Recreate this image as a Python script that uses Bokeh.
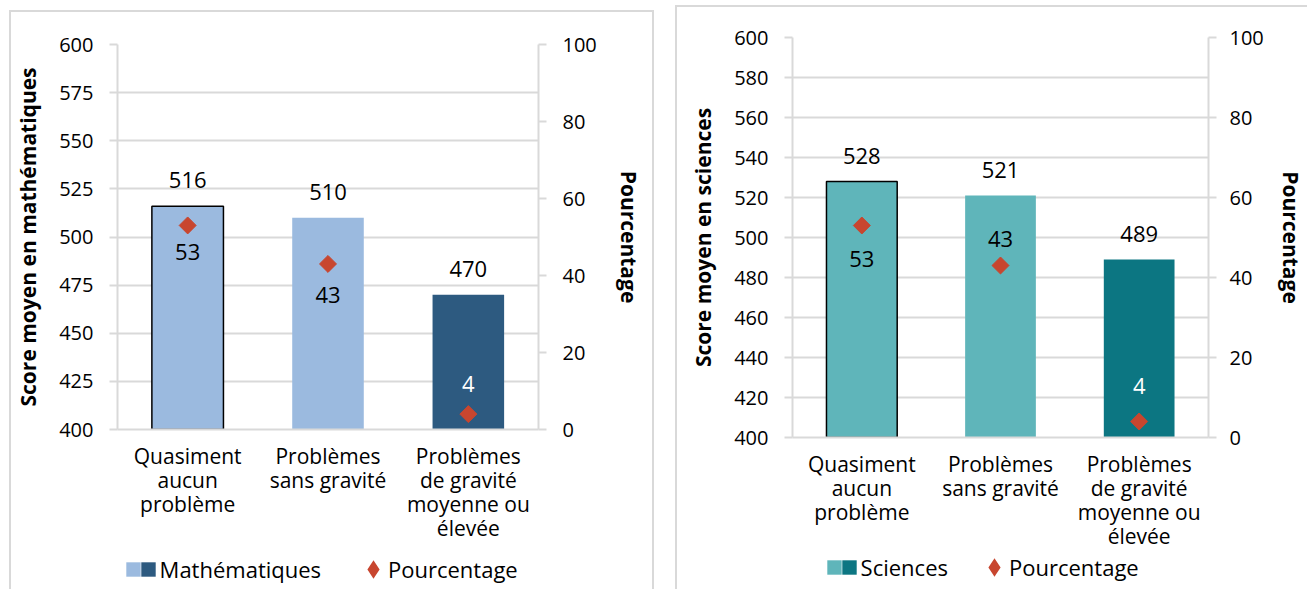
import math
from bokeh.plotting import figure
from bokeh.models import (FactorRange, Range1d, LinearAxis, FixedTicker, Legend, LegendItem,
                          ColumnDataSource, CDSView, IndexFilter)
from bokeh.layouts import row, column
from bokeh.embed import file_html
from bokeh.resources import INLINE
from bokeh.core.properties import value

# ---------------- data ----------------
categories = ["Quasiment\naucun\nproblème",
              "Problèmes\nsans gravité",
              "Problèmes\nde gravité\nmoyenne ou\nélevée"]
math_scores = [516, 510, 470]
math_pct = [53, 43, 4]
sci_scores = [528, 521, 489]
sci_pct = [53, 43, 4]
math_ticks = [400, 425, 450, 475, 500, 525, 550, 575, 600]
sci_ticks = [400, 420, 440, 460, 480, 500, 520, 540, 560, 580, 600]
pct_ticks = [0, 20, 40, 60, 80, 100]
math_title = "Score moyen en mathématiques"
sci_title = "Score moyen en sciences"
pct_title = "Pourcentage"
math_legend = "Mathématiques"
sci_legend = "Sciences"

# ---------------- style ----------------
FONT = "Open Sans"
GRID = "#D9D9D9"
RED = "#C8462F"


def make_source(scores, pct, pct_offsets, pct_colors):
    return ColumnDataSource(dict(cat=categories, score=scores, pct=pct,
                                 score_txt=[str(v) for v in scores],
                                 pct_txt=[str(v) for v in pct],
                                 pct_off=pct_offsets, pct_col=pct_colors))


def make_chart(src, ticks, ytitle, light, dark, width, height, borders,
               tick_standoff_right, label_standoff_right):
    p = figure(width=width, height=height, output_backend="svg", toolbar_location=None,
               x_range=FactorRange(factors=categories), y_range=Range1d(400, 600))
    p.min_border_left, p.min_border_top, p.min_border_right, p.min_border_bottom = borders
    p.outline_line_color = None
    p.background_fill_color = "white"
    p.border_fill_color = "white"
    p.extra_y_ranges = {"pct": Range1d(0, 100)}

    p.vbar(x="cat", top="score", bottom=400, width=0.51, source=src,
           view=CDSView(filter=IndexFilter([0, 1])), fill_color=light, line_color=None)
    p.vbar(x="cat", top="score", bottom=400, width=0.51, source=src,
           view=CDSView(filter=IndexFilter([2])), fill_color=dark, line_color=None)
    p.vbar(x="cat", top="score", bottom=400, width=0.51, source=src,
           view=CDSView(filter=IndexFilter([0])),
           fill_color=None, line_color="black", line_width=1.5)

    p.scatter(x="cat", y="pct", y_range_name="pct", source=src, marker="square",
              angle=math.pi / 4, size=12, fill_color=RED, line_color=RED)

    p.text(x="cat", y="score", text="score_txt", source=src, text_align="center",
           text_baseline="middle", y_offset=-26, text_font=value(FONT),
           text_font_size="22px", text_color="black")
    p.text(x="cat", y="pct", text="pct_txt", source=src, y_range_name="pct",
           text_align="center", text_baseline="middle", y_offset="pct_off",
           text_font=value(FONT), text_font_size="22px", text_color="pct_col")

    ya = p.yaxis[0]
    ya.ticker = FixedTicker(ticks=ticks)
    ya.axis_label = ytitle
    ra = LinearAxis(y_range_name="pct", ticker=FixedTicker(ticks=pct_ticks), axis_label=pct_title)
    p.add_layout(ra, "right")
    for ax in (ya, ra):
        ax.axis_line_color = GRID
        ax.axis_line_width = 2
        ax.major_tick_line_color = GRID
        ax.major_tick_line_width = 2
        ax.major_tick_in = 0
        ax.major_tick_out = 8
        ax.minor_tick_line_color = None
        ax.major_label_text_font = FONT
        ax.major_label_text_font_size = "20px"
        ax.major_label_text_color = "black"
        ax.axis_label_text_font = FONT
        ax.axis_label_text_font_size = "21px"
        ax.axis_label_text_font_style = "bold"
        ax.axis_label_text_color = "black"
    ya.major_label_standoff = 16
    ya.axis_label_standoff = 14
    ra.major_label_standoff = tick_standoff_right
    ra.axis_label_standoff = label_standoff_right

    xa = p.xaxis[0]
    xa.axis_line_color = GRID
    xa.axis_line_width = 2
    xa.major_tick_line_color = None
    xa.major_tick_out = 0
    xa.major_tick_in = 0
    xa.minor_tick_line_color = None
    xa.major_label_text_font = FONT
    xa.major_label_text_font_size = "21px"
    xa.major_label_text_color = "black"
    xa.major_label_text_line_height = 0.86
    xa.major_label_standoff = 12

    p.xgrid.grid_line_color = None
    p.ygrid.grid_line_color = GRID
    p.ygrid.grid_line_width = 2
    return p


def _legend(items, loc, glyph, standoff):
    return Legend(items=items, orientation="horizontal", location=loc,
                  glyph_width=glyph, glyph_height=glyph, label_width=0, label_height=30,
                  label_standoff=standoff, spacing=0, padding=0, margin=0,
                  border_line_color=None, background_fill_alpha=0,
                  label_text_font=FONT, label_text_font_size="22px", label_text_color="black")


def make_legend(src, series_name, light, dark, width, height, sq_loc, dia_loc):
    # strip below the chart that holds only the legend; the legend keys reuse the chart
    # data, which lies outside this strip's ranges, so only the legend swatches show
    q = figure(width=width, height=height, output_backend="svg", toolbar_location=None,
               x_range=FactorRange(factors=categories), y_range=Range1d(0, 1),
               x_axis_type=None, y_axis_type=None, min_border=0)
    q.outline_line_color = None
    q.grid.visible = False
    k_light = q.vbar(x="cat", top="score", bottom=400, width=0, source=src,
                     fill_color=light, line_color=None)
    k_dark = q.vbar(x="cat", top="score", bottom=400, width=0, source=src,
                    fill_color=dark, line_color=None)
    k_pct = q.scatter(x="cat", y="pct", source=src, marker="diamond", size=12,
                      fill_color=RED, line_color=RED, line_width=3.5, line_join="miter")
    sx, sy = sq_loc
    q.add_layout(_legend([LegendItem(label=value(""), renderers=[k_light])], (sx, sy), 18, 0),
                 "center")
    q.add_layout(_legend([LegendItem(label=value(series_name), renderers=[k_dark])],
                         (sx + 14.4, sy), 18, 3), "center")
    q.add_layout(_legend([LegendItem(label=value(pct_title), renderers=[k_pct])], dia_loc, 30, 0),
                 "center")
    return q


src1 = make_source(math_scores, math_pct, [27, 31, -30], ["black", "black", "white"])
p1 = make_chart(src1, math_ticks, math_title, "#9BBADF", "#2D5A80",
                641, 538, (106, 32, 114, 121), 16, 15)
q1 = make_legend(src1, math_legend, "#9BBADF", "#2D5A80", 641, 39, (7.2, 5), (241, 5))
box1 = column(p1, q1)
box1.styles = {"border-left": f"2px solid {GRID}", "border-top": f"2px solid {GRID}",
               "border-right": f"2px solid {GRID}"}
box1.margin = (10, 0, 0, 9)

src2 = make_source(sci_scores, sci_pct, [33, -27, -36], ["black", "black", "white"])
p2 = make_chart(src2, sci_ticks, sci_title, "#5FB5BA", "#0C7682",
                630, 545, (115, 30, 96, 115), 13, 10)
q2 = make_legend(src2, sci_legend, "#5FB5BA", "#0C7682", 630, 37, (33.2, 7), (187, 7))
box2 = column(p2, q2)
box2.styles = {"border-left": f"2px solid {GRID}", "border-top": f"2px solid {GRID}"}
box2.margin = (5, 0, 0, 21)

layout = row(box1, box2)
open("out.html", "w").write(file_html(layout, INLINE))
